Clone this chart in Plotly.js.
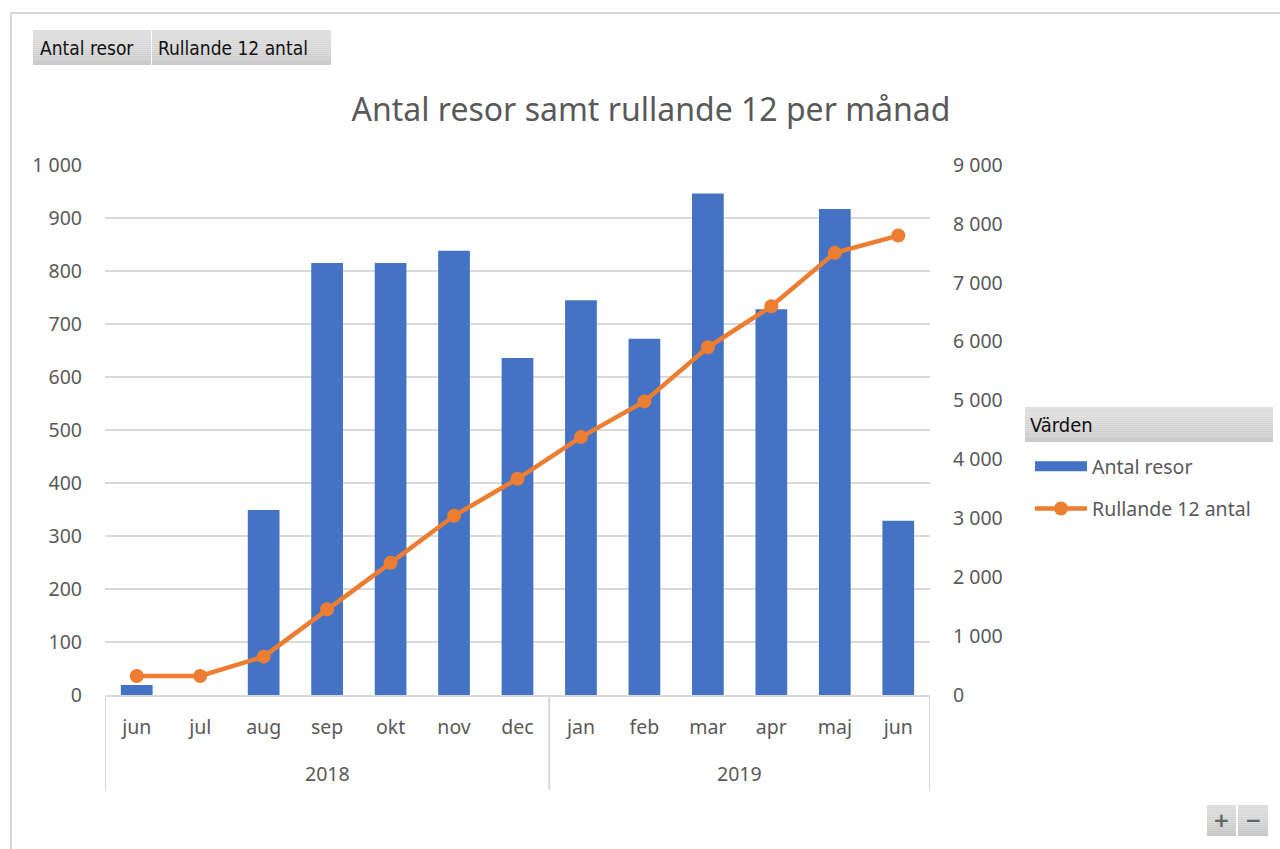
<!DOCTYPE html>
<html>
<head>
<meta charset="utf-8">
<script src="https://cdn.plot.ly/plotly-3.0.1.min.js"></script>
<style>
  html, body { margin: 0; padding: 0; background: #ffffff; }
  #chart { width: 1280px; height: 849px; }
</style>
</head>
<body>
<div id="chart"></div>
<script>
// ---- data ----
const years = ['2018','2018','2018','2018','2018','2018','2018','2019','2019','2019','2019','2019','2019'];
const months = ['jun','jul','aug','sep','okt','nov','dec','jan','feb','mar','apr','maj','jun'];
const antalResor = [19, 0, 349, 815, 815, 838, 636, 745, 672, 946, 728, 917, 329];
const rullande12 = [323, 323, 651, 1457, 2244, 3043, 3672, 4380, 4986, 5904, 6601, 7508, 7802];
const seriesNames = ['Antal resor', 'Rullande 12 antal'];
const chartTitle = 'Antal resor samt rullande 12 per månad';
const legendHeader = 'Värden';

// ---- layout helpers (pixel -> paper) ----
const L = 105, R = 930, T = 165, B = 695;
const W = 1280, H = 849;
const px = x => (x - L) / (R - L);
const py = y => (B - y) / (B - T);

const font = 'Noto Sans, Open Sans, sans-serif';
const btnFont = 'DejaVu Sans Condensed, DejaVu Sans, sans-serif';
const grey = '#595959';
const idx = months.map((m, i) => i);

const traces = [
  {
    type: 'bar',
    name: seriesNames[0],
    x: idx,
    y: antalResor,
    marker: { color: '#4472C4' },
    showlegend: false
  },
  { // legend entry for the bars (Excel-style wide swatch)
    type: 'scatter', mode: 'lines', name: seriesNames[0],
    x: [null], y: [null],
    line: { color: '#4472C4', width: 15 },
    legendgroup: 'a'
  },
  {
    type: 'scatter',
    mode: 'lines+markers',
    name: seriesNames[1],
    x: idx,
    y: rullande12,
    yaxis: 'y2',
    line: { color: '#ED7D31', width: 4.5 },
    marker: { color: '#ED7D31', size: 14 },
    legendgroup: 'b'
  }
];

// gradient-like grey boxes
function gradBox(x0, x1, y0, y1, top, bottom, n) {
  const out = [];
  for (let i = 0; i < n; i++) {
    const t = i / (n - 1);
    const c = Math.round(top + (bottom - top) * t);
    out.push({ type: 'rect', xref: 'paper', yref: 'paper',
      x0: px(x0), x1: px(x1),
      y0: py(y0 + (y1 - y0) * (i + 1) / n), y1: py(y0 + (y1 - y0) * i / n),
      line: { width: 0 }, fillcolor: `rgb(${c},${c},${c})` });
  }
  return out;
}

let shapes = [
  // outer border
  { type: 'rect', xref: 'paper', yref: 'paper', x0: px(11), x1: px(1300), y0: py(870), y1: py(13),
    line: { color: '#d9d9d9', width: 2 }, fillcolor: 'rgba(0,0,0,0)', layer: 'below' }
];
shapes = shapes
  .concat(gradBox(33, 151, 30, 65, 224, 202, 18))
  .concat(gradBox(152, 331, 30, 65, 224, 202, 18))
  .concat(gradBox(1025, 1273, 407, 442, 224, 202, 18))
  .concat(gradBox(1207, 1236, 805, 836, 222, 198, 16))
  .concat(gradBox(1238, 1268, 805, 836, 222, 198, 16));

// x-axis group dividers & year labels derived from the years array
const groups = [];
years.forEach((y, i) => {
  if (!groups.length || groups[groups.length - 1].year !== y) groups.push({ year: y, start: i, end: i });
  else groups[groups.length - 1].end = i;
});
const dividerXs = [groups[0].start - 0.5].concat(groups.map(g => g.end + 0.5));
dividerXs.forEach(x => shapes.push({
  type: 'line', xref: 'x', yref: 'paper', x0: x, x1: x, y0: py(695), y1: py(790),
  line: { color: '#d9d9d9', width: 2 }
}));

const annotations = [
  { xref: 'paper', yref: 'paper', x: px(38), y: py(48), xanchor: 'left', yanchor: 'middle', showarrow: false,
    text: seriesNames[0], font: { family: btnFont, size: 19, color: '#111' } },
  { xref: 'paper', yref: 'paper', x: px(156), y: py(48), xanchor: 'left', yanchor: 'middle', showarrow: false,
    text: seriesNames[1], font: { family: btnFont, size: 19, color: '#111' } },
  { xref: 'paper', yref: 'paper', x: px(1028), y: py(425), xanchor: 'left', yanchor: 'middle', showarrow: false,
    text: legendHeader, font: { family: btnFont, size: 20, color: '#111' } },
  { xref: 'paper', yref: 'paper', x: px(1221.5), y: py(820), xanchor: 'center', yanchor: 'middle', showarrow: false,
    text: '<b>+</b>', font: { family: 'DejaVu Sans, sans-serif', size: 20, color: '#666' } },
  { xref: 'paper', yref: 'paper', x: px(1253), y: py(820), xanchor: 'center', yanchor: 'middle', showarrow: false,
    text: '<b>−</b>', font: { family: 'DejaVu Sans, sans-serif', size: 20, color: '#666' } }
];
groups.forEach(g => annotations.push({
  xref: 'x', yref: 'paper', x: (g.start + g.end) / 2, y: py(773), xanchor: 'center', yanchor: 'middle',
  showarrow: false, text: g.year, font: { family: font, size: 19.5, color: grey }
}));

const layout = {
  width: W, height: H,
  margin: { l: L, r: W - R, t: T, b: H - B, autoexpand: false },
  paper_bgcolor: '#ffffff',
  plot_bgcolor: '#ffffff',
  separators: ', ',
  font: { family: font, color: grey, size: 19.5 },
  title: { text: chartTitle, x: px(651), xanchor: 'center', xref: 'paper', y: 1 - 110 / H, yanchor: 'middle',
           font: { family: font, size: 32, color: grey } },
  bargap: 0.5,
  showlegend: true,
  legend: {
    x: px(1030), y: py(447), xanchor: 'left', yanchor: 'top',
    bgcolor: 'rgba(0,0,0,0)', borderwidth: 0,
    font: { family: font, size: 19.5, color: grey },
    traceorder: 'grouped', tracegroupgap: 14,
    itemwidth: 52
  },
  xaxis: {
    range: [-0.5, months.length - 0.5],
    tickmode: 'array', tickvals: idx, ticktext: months,
    showgrid: false, zeroline: false,
    showline: true, linecolor: '#d9d9d9', linewidth: 2,
    ticks: '',
    ticklabelstandoff: 14,
    tickfont: { family: font, size: 19.5, color: grey },
    fixedrange: true
  },
  yaxis: {
    range: [0, 1000], dtick: 100, tick0: 0, tickformat: ',d',
    showgrid: true, gridcolor: '#d9d9d9', gridwidth: 2,
    zeroline: false, showline: false, ticks: '',
    ticklabelstandoff: 22,
    tickfont: { family: font, size: 19.5, color: grey },
    fixedrange: true
  },
  yaxis2: {
    overlaying: 'y', side: 'right',
    range: [0, 9000], dtick: 1000, tick0: 0, tickformat: ',d',
    showgrid: false, zeroline: false, showline: false, ticks: '',
    ticklabelstandoff: 22,
    tickfont: { family: font, size: 19.5, color: grey },
    fixedrange: true
  },
  shapes: shapes,
  annotations: annotations
};

Plotly.newPlot('chart', traces, layout, { displayModeBar: false, staticPlot: true });
</script>
</body>
</html>
